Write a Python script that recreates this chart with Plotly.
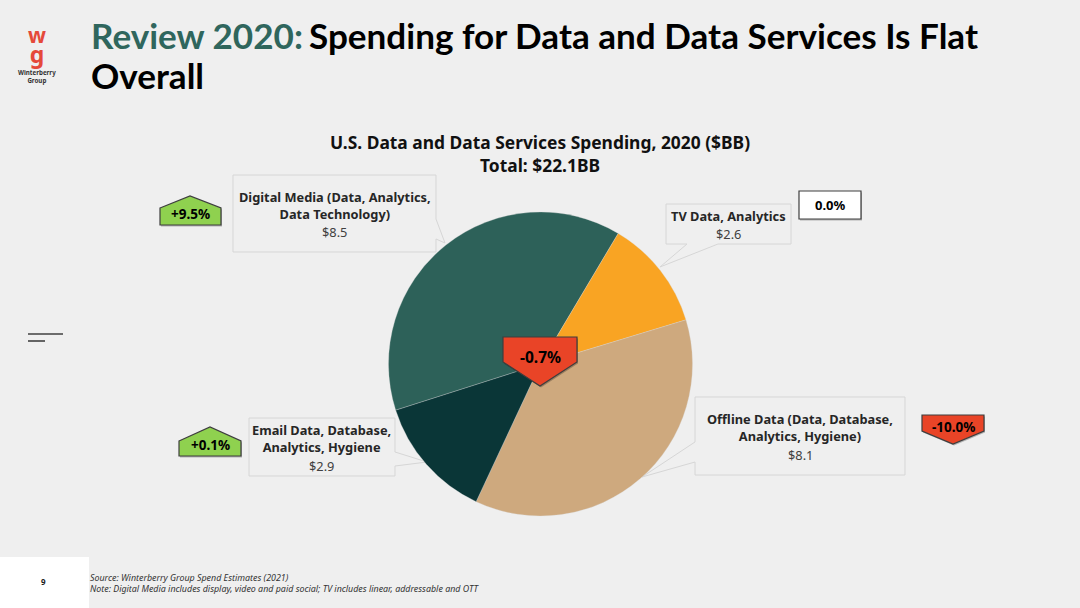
import plotly.graph_objects as go

W = 1080
H = 608

categories = ["Digital Media", "TV Data", "Offline Data", "Email Data"]
spend = [8.5, 2.6, 8.1, 2.9]
colors = ["#2D6159", "#F9A423", "#CEA97E", "#0A3637"]
label_lines = [
    "<b>Digital Media (Data, Analytics,<br>Data Technology)</b>",
    "<b>TV Data, Analytics</b>",
    "<b>Offline Data (Data, Database,<br>Analytics, Hygiene)</b>",
    "<b>Email Data, Database,<br>Analytics, Hygiene</b>",
]
changes = ["+9.5%", "0.0%", "-10.0%", "+0.1%"]
total_change = "-0.7%"

GREEN = "#8FD14F"
RED = "#E94427"
FONT = "Noto Sans"
TITLE_FONT = "Lato"


# slide is laid out in pixels, top left origin
def px(x):
    return x / W


def py(y):
    return 1 - y / H


def path(points):
    return "M " + " L ".join(f"{px(x):.5f},{py(y):.5f}" for x, y in points) + " Z"


def poly(points, fill="rgba(0,0,0,0)", line="#D6D6D6", width=1, layer="above"):
    return dict(type="path", xref="paper", yref="paper", path=path(points), layer=layer,
                fillcolor=fill, line=dict(color=line, width=width))


def tag(points, fill):
    # small shadow under the tag then the tag itself
    shadow = [(x + 1, y + 1.5) for x, y in points]
    return [poly(shadow, "rgba(0,0,0,0.25)", "rgba(0,0,0,0)", 0),
            poly(points, fill, "#3E3E3E", 1.2)]


def text(x, y, s, size, color="#000000", anchor="center", family=FONT):
    return dict(xref="paper", yref="paper", x=px(x), y=py(y), text=s, showarrow=False,
                xanchor=anchor, yanchor="middle", align="center",
                font=dict(family=family, size=size, color=color))


fig = go.Figure(go.Pie(
    labels=categories,
    values=spend,
    marker=dict(colors=colors, line=dict(color="#DADADA", width=0.3)),
    sort=False,
    direction="clockwise",
    rotation=252.3,
    textinfo="none",
    hoverinfo="label+value",
    showlegend=False,
    domain=dict(x=[px(388.5), px(692.5)], y=[py(516), py(212)]),
))

shapes = [
    # footer box with the page number
    dict(type="rect", xref="paper", yref="paper", x0=0, x1=px(89), y0=0, y1=py(557),
         fillcolor="#FFFFFF", line=dict(width=0), layer="below"),
    # the two short rules on the left
    dict(type="line", xref="paper", yref="paper", x0=px(28), x1=px(63), y0=py(334), y1=py(334),
         line=dict(color="#404040", width=1.6)),
    dict(type="line", xref="paper", yref="paper", x0=px(28), x1=px(45), y0=py(341), y1=py(341),
         line=dict(color="#404040", width=1.6)),
    # callouts, these sit behind the pie
    poly([(233, 175), (436, 175), (436, 219), (445, 243), (436, 239), (436, 252), (233, 252)], layer="below"),
    poly([(666, 204), (791, 204), (791, 244), (718, 244), (660, 267), (687, 244), (666, 244)], layer="below"),
    poly([(249, 418), (395, 418), (395, 452), (427, 462), (395, 466), (395, 476), (249, 476)], layer="below"),
    poly([(695, 397), (905, 397), (905, 475), (695, 475), (695, 462), (642, 477), (695, 442)], layer="below"),
]
shapes += tag([(160, 208), (190, 196), (221, 208), (221, 225), (160, 225)], GREEN)
shapes += tag([(179, 441), (210, 427), (241, 441), (241, 456), (179, 456)], GREEN)
shapes += tag([(503, 337), (577, 337), (577, 362), (540, 386), (503, 362)], RED)
shapes += tag([(922, 415), (984, 415), (984, 431), (953, 444), (922, 431)], RED)
shapes += tag([(799, 191), (861, 191), (861, 219), (799, 219)], "#FFFFFF")

annotations = [
    text(89, 35, "<b>Review 2020:</b>", 35.1, "#2F665D", "left", TITLE_FONT),
    text(307, 35, "<b>Spending for Data and Data Services Is Flat</b>", 35.1, "#000000", "left", TITLE_FONT),
    text(89, 75, "<b>Overall</b>", 35.1, "#000000", "left", TITLE_FONT),
    text(36.5, 45,
         '<b><span style="font-size:21px">w</span><br><span style="font-size:23px">g</span></b>',
         15, "#E5493A"),
    text(37, 76, "<b>Winterberry<br>Group</b>", 6.2, "#333333"),
    text(540, 142, "<b>U.S. Data and Data Services Spending, 2020 ($BB)</b>", 17.4, "#111111"),
    text(540, 165, "<b>Total: $22.1BB</b>", 17.4, "#111111"),
    # segment labels
    text(334.5, 205, label_lines[0], 12.8, "#262626"),
    text(334.5, 232, f"${spend[0]}", 12.8, "#404040"),
    text(728, 216, label_lines[1], 12.8, "#262626"),
    text(728, 234, f"${spend[1]}", 12.8, "#404040"),
    text(800, 427, label_lines[2], 12.8, "#262626"),
    text(800, 455, f"${spend[2]}", 12.8, "#404040"),
    text(321.5, 438.5, label_lines[3], 12.8, "#262626"),
    text(321.5, 466, f"${spend[3]}", 12.8, "#404040"),
    # change tags
    text(190, 214, f"<b>{changes[0]}</b>", 13.5),
    text(830, 205, f"<b>{changes[1]}</b>", 13),
    text(953, 427, f"<b>{changes[2]}</b>", 13.5),
    text(210, 445, f"<b>{changes[3]}</b>", 13.5),
    text(540, 357, f"<b>{total_change}</b>", 15.5),
    # footer
    text(43.5, 581, "<b>9</b>", 8, "#222222"),
    text(88, 577, "<i>Source: Winterberry Group Spend Estimates (2021)</i>", 8.9, "#333333", "left"),
    text(88, 588, "<i>Note: Digital Media includes display, video and paid social; TV includes linear, addressable and OTT</i>",
         8.9, "#333333", "left"),
]

fig.update_layout(
    width=W,
    height=H,
    margin=dict(l=0, r=0, t=0, b=0),
    paper_bgcolor="#EFEFEF",
    plot_bgcolor="#EFEFEF",
    shapes=shapes,
    annotations=annotations,
)

# the page has a default body margin, drop it so the slide fills the window
fig.write_html("out.html", config={"displayModeBar": False},
               post_script="document.body.style.margin = '0';")
